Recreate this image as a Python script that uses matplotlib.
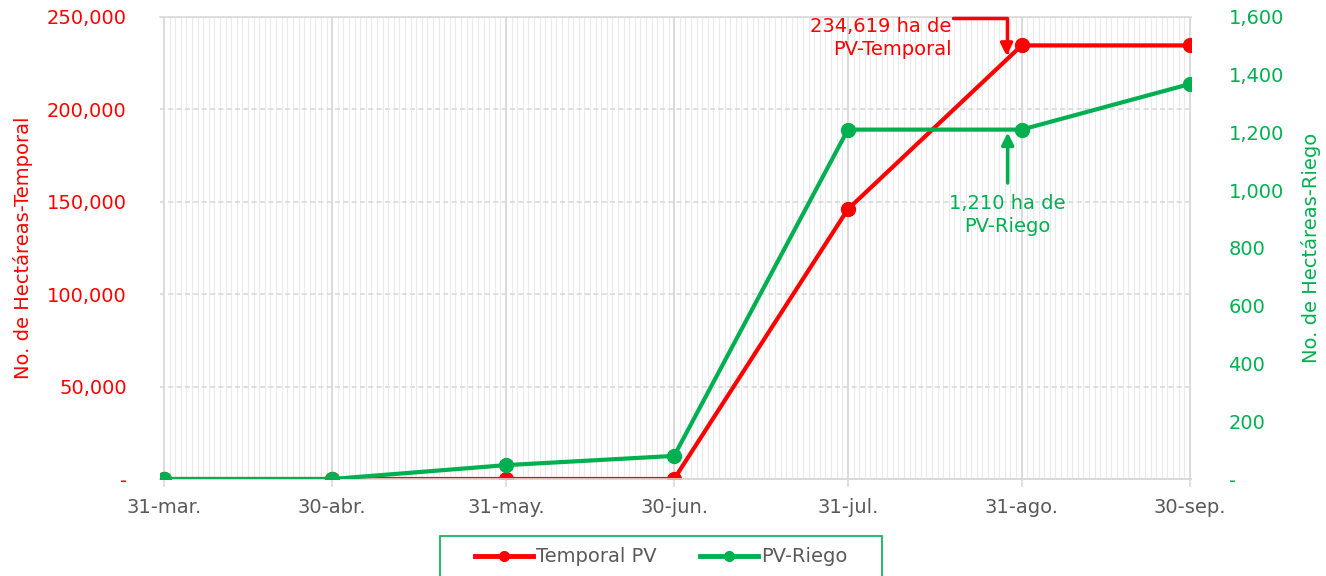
import matplotlib
matplotlib.use('Agg')
import matplotlib.pyplot as plt
import matplotlib.dates as mdates
import matplotlib.ticker as mticker
from matplotlib.lines import Line2D
from matplotlib.patches import Rectangle
import pandas as pd

plt.rcParams['font.family'] = ['DejaVu Sans']

# fechas de corte y superficie acumulada (ha)
fechas = ['2023-03-31', '2023-04-30', '2023-05-31', '2023-06-30',
          '2023-07-31', '2023-08-31', '2023-09-30']
etiquetas_x = ['31-mar.', '30-abr.', '31-may.', '30-jun.', '31-jul.', '31-ago.', '30-sep.']
temporal_pv = [0, 0, 0, 0, 146000, 234619, 234619]
riego_pv = [0, 0, 48, 80, 1210, 1210, 1368]

ROJO = '#FF0000'
VERDE = '#00B050'
GRIS = '#595959'
FS = 14

x = pd.to_datetime(fechas)


def miles(v, pos):
    # Excel muestra el cero como guion
    if abs(v) < 1e-9:
        return '-'
    return '{:,.0f}'.format(v)


fig = plt.figure(figsize=(13.26, 5.76), dpi=100)
ax = fig.add_axes([0.1207, 0.1684, 0.7775, 0.8021])
ax2 = ax.twinx()

ax.plot(x, temporal_pv, color=ROJO, lw=3, marker='o', ms=10, zorder=3)
ax2.plot(x, riego_pv, color=VERDE, lw=3, marker='o', ms=10, zorder=3)

ax.set_xlim(x[0] - pd.Timedelta(days=0.7), x[-1] + pd.Timedelta(days=0.2))
ax.set_ylim(0, 250000)
ax2.set_ylim(0, 1600)

ax.set_xticks(x)
ax.set_xticklabels(etiquetas_x)
ax.xaxis.set_minor_locator(mdates.DayLocator())
ax.yaxis.set_major_locator(mticker.MultipleLocator(50000))
ax2.yaxis.set_major_locator(mticker.MultipleLocator(200))
ax.yaxis.set_major_formatter(mticker.FuncFormatter(miles))
ax2.yaxis.set_major_formatter(mticker.FuncFormatter(miles))

# rejilla: diaria muy tenue, mensual algo mas marcada, horizontal discontinua
ax.grid(which='minor', axis='x', color='#eaeaea', lw=0.8)
ax.grid(which='major', axis='x', color='#d4d4d4', lw=1.2)
ax.grid(which='major', axis='y', color='#d9d9d9', lw=1.2, ls=(0, (3, 2)))
ax.set_axisbelow(True)

for a in (ax, ax2):
    for s in ('left', 'right', 'top'):
        a.spines[s].set_visible(False)
    a.spines['bottom'].set_color('#d9d9d9')
    a.spines['bottom'].set_linewidth(1.2)
ax.spines['top'].set_visible(True)
ax.spines['top'].set_color('#d9d9d9')
ax.spines['top'].set_linewidth(1.2)

ax.tick_params(axis='x', which='major', colors='#d9d9d9', labelcolor=GRIS,
               labelsize=FS, length=6, width=1.2, pad=8)
ax.tick_params(axis='x', which='minor', length=0)
ax.tick_params(axis='y', length=0, labelcolor=ROJO, labelsize=FS, pad=24)
ax2.tick_params(axis='y', length=0, labelcolor=VERDE, labelsize=FS, pad=27)

ax.set_ylabel('No. de Hectáreas-Temporal', color=ROJO, fontsize=FS, labelpad=10)
ax2.set_ylabel('No. de Hectáreas-Riego', color=VERDE, fontsize=FS, labelpad=12)

# anotaciones
ago = x[5]
ax.annotate('', xy=(ago - pd.Timedelta(days=2.7), 229000),
            xytext=(ago - pd.Timedelta(days=12.3), 249300),
            arrowprops=dict(arrowstyle='-|>', color=ROJO, lw=2.5, mutation_scale=18,
                            shrinkA=0, shrinkB=0,
                            connectionstyle='angle,angleA=0,angleB=90,rad=0'),
            annotation_clip=False, zorder=5)
ax.text(ago - pd.Timedelta(days=12.5), 238600, '234,619 ha de\nPV-Temporal',
        color=ROJO, fontsize=FS, ha='right', va='center', linespacing=1.25, zorder=5)

ax2.annotate('', xy=(ago - pd.Timedelta(days=2.5), 1200),
             xytext=(ago - pd.Timedelta(days=2.5), 1025),
             arrowprops=dict(arrowstyle='-|>', color=VERDE, lw=2.5, mutation_scale=18,
                             shrinkA=0, shrinkB=0), zorder=5)
ax2.text(ago - pd.Timedelta(days=2.5), 915, '1,210 ha de\nPV-Riego',
         color=VERDE, fontsize=FS, ha='center', va='center', linespacing=1.25, zorder=5)

# leyenda con marco propio (cortado por el borde inferior, como en el original)
handles = [Line2D([], [], color=ROJO, lw=3.5, marker='o', ms=7),
           Line2D([], [], color=VERDE, lw=3.5, marker='o', ms=7)]
leg = fig.legend(handles, ['Temporal PV', 'PV-Riego'], loc='center',
                 bbox_to_anchor=(0.4985, 1 - 557 / 576), ncol=2, fontsize=FS,
                 frameon=False, handlelength=3.0, handletextpad=0.15, columnspacing=2.2)
for t in leg.get_texts():
    t.set_color(GRIS)
fig.patches.append(Rectangle((440 / 1326, -0.02), 442 / 1326, 0.02 + 40 / 576,
                             transform=fig.transFigure, fill=False,
                             edgecolor=VERDE, lw=1.2))

plt.savefig('out.png', dpi=100)
